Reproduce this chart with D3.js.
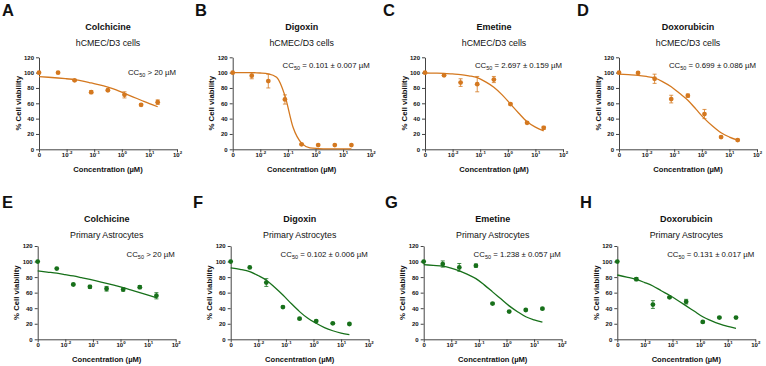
<!DOCTYPE html>
<html>
<head>
<meta charset="utf-8">
<script src="https://cdn.jsdelivr.net/npm/d3@7"></script>
<style>
  body { margin: 0; background: #fff; }
  text { font-family: Arial, "Liberation Sans", sans-serif; fill: #111; }
</style>
</head>
<body>
<svg id="chart" width="766" height="366"></svg>
<script>
// concentrations in µM (0 is drawn at the 10^-3 position)
const conc = [0, 0.0049, 0.0195, 0.078, 0.3125, 1.25, 5, 20];
const drugs = ['Colchicine', 'Digoxin', 'Emetine', 'Doxorubicin'];
const cellLines = ['hCMEC/D3 cells', 'Primary Astrocytes'];
const letters = ['A', 'B', 'C', 'D', 'E', 'F', 'G', 'H'];
const cc50Text = ['> 20 µM', '= 0.101 ± 0.007 µM', '= 2.697 ± 0.159 µM', '= 0.699 ± 0.086 µM',
                  '> 20 µM', '= 0.102 ± 0.006 µM', '= 1.238 ± 0.057 µM', '= 0.131 ± 0.017 µM'];
const yTicks = [0, 20, 40, 60, 80, 100, 120];
const xTicks = [0.001, 0.01, 0.1, 1, 10, 100];

// % viability (mean) and error, hCMEC/D3
const viabHcmec = [
  [100, 100, 90, 74.5, 77, 71, 58, 61.5],
  [100, 96, 89, 65, 6.5, 5.5, 5.5, 5.5],
  [100, 96.5, 87, 85, 91, 59, 34.5, 28],
  [100, 99.6, 92, 65.5, 70, 46, 16, 12]
];
const errHcmec = [
  [0, 0, 1, 2, 1, 4, 1.5, 3],
  [0, 4, 9, 6, 1, 0, 0, 0],
  [0, 1, 5, 10, 4, 1, 1, 2],
  [0, 0, 6, 5, 2, 6, 1, 1]
];
// % viability (mean) and error, primary astrocytes
const viabAstro = [
  [100, 91, 70.5, 67.5, 65, 64, 67, 56],
  [100, 92.5, 73, 41.5, 26.5, 23.5, 20.5, 19.7],
  [100, 96.8, 92.5, 94.7, 46, 35.6, 37.7, 39.4],
  [100, 77.3, 44.7, 54, 48.4, 22.3, 27.9, 27.9]
];
const errAstro = [
  [0, 0, 1, 2, 3, 2, 2, 4],
  [0, 0, 5, 1, 1, 1, 1, 1],
  [0, 4, 5, 2, 1, 1, 1, 1],
  [0, 2, 5, 1, 3, 1, 1, 1]
];

// fitted curves at these concentrations
const fitConc = [0.001, 0.0022, 0.0049, 0.0098, 0.0195, 0.039, 0.078, 0.156, 0.3125, 0.625, 1.25, 2.5, 5, 10, 20];
const fitHcmec = [
  [94.8, 94, 93, 92, 91, 89, 86.5, 84, 81, 77.5, 73, 68.5, 64, 59.5, 55.5],
  [100, 100, 100, 99.5, 98.5, 94, 70, 28, 8, 2, 1, 0.5, 0.5, 0.5, 0.5],
  [99.5, 99.3, 99, 98.3, 97.5, 95.8, 93.5, 88, 81, 71, 59, 47, 36, 29, 24],
  [98, 97.3, 96.5, 95, 93, 88, 81.6, 73, 64, 52, 40, 30, 21.5, 16, 12]
];
const fitAstro = [
  [88, 86.5, 85, 83.3, 81.5, 79.3, 77, 74.5, 72, 69.3, 66.5, 63.3, 60, 56.8, 53.5],
  [92, 90, 87, 82, 76, 67, 57, 46, 35.6, 27, 20.6, 15, 11, 8, 6],
  [96, 95, 94, 91.5, 88, 83.5, 78, 70, 61, 52, 43, 35.5, 29, 25, 22],
  [82.7, 80, 77, 73, 68.6, 62.5, 56.6, 50, 43, 36, 29, 24, 19.7, 16.5, 14]
];

// layout
const axisX = [39, 232.7, 425, 619, 37.7, 230.7, 423.7, 617.3];
const letterX = [2, 195, 383, 577, 2, 193, 385, 580];
const cc50Y = [101, 110, 110, 110, 110, 110, 110, 110];
const rowTop = [57.3, 246];
const rowH = [92, 93.3];
const letterY = [15.5, 208];
const titleY = [29.5, 221.5];
const subY = [45.5, 238];
const rowColor = ['#d4781f', '#17701a'];
const plotW = 138;

const svg = d3.select('#chart');

letters.forEach((letter, i) => {
  const row = i < 4 ? 0 : 1;
  const col = i % 4;
  const color = rowColor[row];
  const vals = row === 0 ? viabHcmec[col] : viabAstro[col];
  const errs = row === 0 ? errHcmec[col] : errAstro[col];
  const fit = row === 0 ? fitHcmec[col] : fitAstro[col];

  // panel letter + titles (absolute)
  svg.append('text')
    .attr('x', letterX[i]).attr('y', letterY[row])
    .attr('font-size', 16.5).attr('font-weight', 'bold')
    .text(letter);

  svg.append('text')
    .attr('x', axisX[i] + plotW / 2).attr('y', titleY[row])
    .attr('text-anchor', 'middle')
    .attr('font-size', 9).attr('font-weight', 'bold')
    .text(drugs[col]);

  svg.append('text')
    .attr('x', axisX[i] + plotW / 2).attr('y', subY[row])
    .attr('text-anchor', 'middle')
    .attr('font-size', 8.8)
    .text(cellLines[row]);

  const g = svg.append('g')
    .attr('transform', `translate(${axisX[i]}, ${rowTop[row]})`);

  const x = d3.scaleLog().domain([1e-3, 1e2]).range([0, plotW]);
  const y = d3.scaleLinear().domain([0, 120]).range([rowH[row], 0]);
  const xPos = c => x(c === 0 ? 1e-3 : c);

  // axes
  const yAxisG = g.append('g')
    .call(d3.axisLeft(y).tickValues(yTicks).tickSize(3).tickSizeOuter(0).tickPadding(2));
  const xAxisG = g.append('g')
    .attr('transform', `translate(0, ${rowH[row]})`)
    .call(d3.axisBottom(x).tickValues(xTicks).tickSize(3).tickSizeOuter(0).tickPadding(2));

  [yAxisG, xAxisG].forEach(ax => {
    ax.select('.domain').attr('stroke', '#444').attr('stroke-width', 1);
    ax.selectAll('.tick line').attr('stroke', '#444');
    ax.selectAll('text')
      .attr('font-size', 6).attr('font-weight', 'bold')
      .attr('font-family', 'Arial, "Liberation Sans", sans-serif').attr('fill', '#111');
  });

  xAxisG.selectAll('.tick text').each(function(d) {
    const t = d3.select(this).text('').attr('y', 7.5).attr('dy', null);
    if (d === 0.001) {
      t.text('0');
    } else {
      t.append('tspan').text('10');
      t.append('tspan').attr('dy', -2.6).attr('font-size', 4.3).text(Math.round(Math.log10(d)));
    }
  });

  // axis titles
  g.append('text')
    .attr('transform', `translate(-18.5, ${rowH[row] / 2}) rotate(-90)`)
    .attr('text-anchor', 'middle')
    .attr('font-size', 7.8).attr('font-weight', 'bold')
    .text('% Cell viability');

  g.append('text')
    .attr('x', plotW / 2).attr('y', rowH[row] + 23)
    .attr('text-anchor', 'middle')
    .attr('font-size', 7.6).attr('font-weight', 'bold')
    .text('Concentration (µM)');

  // CC50 label
  const cc = g.append('text')
    .attr('x', plotW - 1).attr('y', y(cc50Y[i]) + 3)
    .attr('text-anchor', 'end')
    .attr('font-size', 7.8);
  cc.append('tspan').text('CC');
  cc.append('tspan').attr('font-size', 5.5).attr('dy', 2).text('50');
  cc.append('tspan').attr('dy', -2).text(' ' + cc50Text[i]);

  // fitted curve
  const line = d3.line()
    .x(d => x(d[0]))
    .y(d => y(d[1]))
    .curve(d3.curveMonotoneX);
  g.append('path')
    .datum(fitConc.map((c, k) => [c, fit[k]]))
    .attr('d', line)
    .attr('fill', 'none')
    .attr('stroke', color)
    .attr('stroke-width', 1.3);

  // error bars
  const pts = conc.map((c, k) => ({ c, v: vals[k], e: errs[k] }));
  const eb = g.append('g').attr('stroke', color).attr('stroke-width', 0.8);
  pts.filter(d => d.e > 0).forEach(d => {
    const px = xPos(d.c);
    eb.append('line').attr('x1', px).attr('x2', px).attr('y1', y(d.v - d.e)).attr('y2', y(d.v + d.e));
    eb.append('line').attr('x1', px - 2).attr('x2', px + 2).attr('y1', y(d.v + d.e)).attr('y2', y(d.v + d.e));
    eb.append('line').attr('x1', px - 2).attr('x2', px + 2).attr('y1', y(d.v - d.e)).attr('y2', y(d.v - d.e));
  });

  // points
  g.selectAll('circle.pt')
    .data(pts)
    .enter().append('circle')
    .attr('class', 'pt')
    .attr('cx', d => xPos(d.c))
    .attr('cy', d => y(d.v))
    .attr('r', 2.4)
    .attr('fill', color);
});
</script>
</body>
</html>
